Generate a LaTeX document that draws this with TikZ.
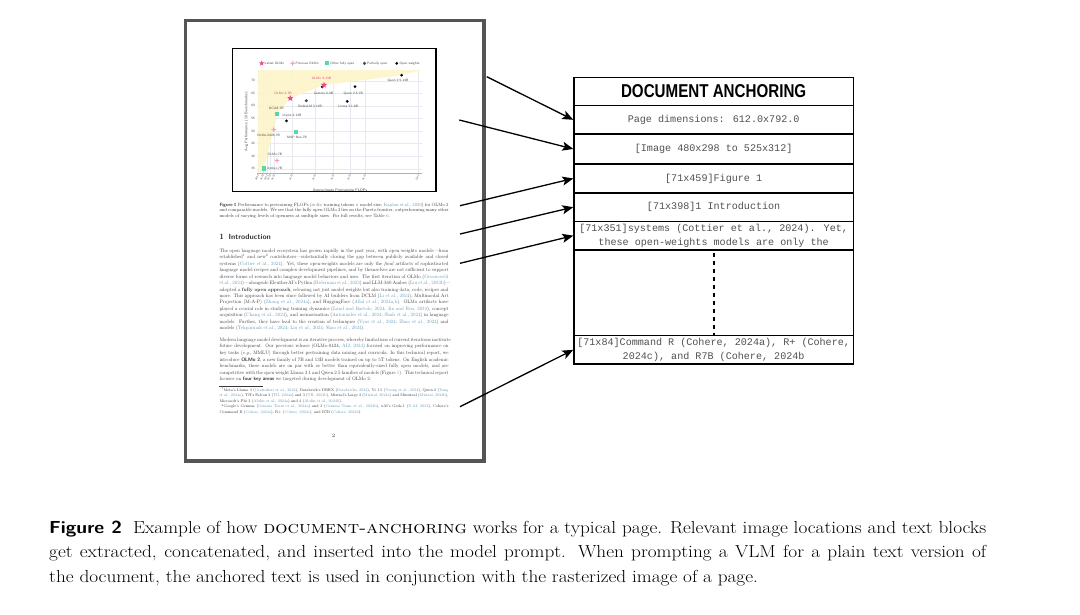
\documentclass[tikz,border=0pt]{standalone}
\usepackage{fontspec}
\usepackage{graphicx}
\usetikzlibrary{arrows.meta,shapes.geometric,calc}
\newfontfamily\anchhead{Liberation Sans}
\newfontfamily\anchmono{Liberation Mono}
\definecolor{pagegray}{RGB}{85,85,85}
\definecolor{citec}{RGB}{95,150,180}
\definecolor{bodyc}{RGB}{55,55,55}
\definecolor{olmopink}{RGB}{236,72,140}
\definecolor{prevpink}{RGB}{246,160,200}
\definecolor{mint}{RGB}{90,215,170}
\definecolor{slate}{RGB}{55,85,95}
\definecolor{frontier}{RGB}{253,244,200}
\definecolor{gridc}{RGB}{230,234,240}
\definecolor{axisc}{RGB}{160,180,200}
\definecolor{monoc}{RGB}{80,80,80}
\definecolor{labc}{RGB}{70,70,70}
\definecolor{pinklab}{RGB}{225,70,110}
\newcommand{\ct}[1]{\textcolor{citec}{#1}}
\newcommand{\jl}[1]{\hbox to 458pt{#1}}
\newcommand{\lastl}[1]{\hbox{#1}}
\newcommand{\chartfont}{\sffamily\fontsize{3.3}{3.6}\selectfont}
\newcommand{\capfont}{\rmfamily\fontsize{17.4}{24.5}\selectfont}
\newsavebox\capA
\newdimen\capw
\begin{document}
\sbox\capA{\capfont{\sffamily\bfseries Figure 2}\hspace{10pt}Example of how \textsc{document-anchoring} works for a typical page. Relevant image locations and text blocks}%
\global\capw=\wd\capA
\pgfmathsetmacro\capsx{937/\capw}%
\begin{tikzpicture}[x=1pt,y=-1pt,
  cell/.style={draw=black, line width=1.3pt, minimum width=279.4pt, inner sep=0pt,
    anchor=north west, align=center, font=\anchmono\fontsize{10.1}{14.3}\selectfont, text=monoc},
  arr/.style={-{Stealth[length=11pt,width=9pt,inset=2.5pt]}, line width=1.3pt, black},
  lab/.style={font=\chartfont, text=labc, inner sep=0pt},
  plab/.style={font=\chartfont, text=pinklab, inner sep=0pt},
  starm/.style={star, star points=5, star point ratio=2.3, fill=olmopink, inner sep=0pt, minimum size=6.5pt},
  prevm/.style={star, star points=4, star point ratio=2.6, fill=prevpink, inner sep=0pt, minimum size=5.5pt},
  sqm/.style={rectangle, fill=mint, inner sep=0pt, minimum size=4.3pt},
  diam/.style={diamond, fill=slate, inner sep=0pt, minimum size=3.6pt},
  dotm/.style={circle, fill=black, inner sep=0pt, minimum size=3pt},
  body/.style={anchor=base west, inner sep=0pt, text=bodyc}
]
\useasboundingbox (0,0) rectangle (1080,614);
\fill[white] (0,0) rectangle (1080,614);

% ---------- page thumbnail ----------
\draw[pagegray, line width=3.5pt] (185.5,20.3) rectangle (484,461);

% chart
\begin{scope}
\clip (232.5,48.5) rectangle (436,191.5);
\foreach \k in {0,...,7} {
  \pgfmathsetmacro\yy{168.7-12.571*\k}
  \draw[gridc, line width=0.4pt] (257,\yy) -- (422,\yy);
}
\foreach \xx in {257.7,262.7,266.7,270,274,291.7,315,333.3,350,365,418.3} {
  \draw[gridc, line width=0.4pt] (\xx,70) -- (\xx,173.3);
}
\fill[frontier, opacity=0.9] (258,70) -- (422,70) -- (401.7,75.2) -- (324,85) -- (290,98.5)
  -- (277,113.8) -- (273.7,129.5) -- (264,168.5) -- (260,173.3) -- (258,173.3) -- cycle;
\draw[axisc, line width=0.5pt] (257,173.3) -- (422,173.3);
\foreach \k [count=\i] in {0,...,7} {
  \pgfmathsetmacro\yy{168.7-12.571*\k}
  \pgfmathtruncatemacro\vv{35+5*\k}
  \node[lab, anchor=east] (yt\i) at (255,\yy) {\vv};
}
\foreach \xx/\tk [count=\i] in {257.7/{2e22}, 262.7/{3e22}, 266.7/{4e22}, 270/{5e22}, 274/{6e22}, 291.7/{1e23}, 315/{2e23}, 333.3/{3e23}, 350/{4e23}, 365/{5e23}, 418.3/{1e24}} {
  \node[lab, font=\sffamily\fontsize{2.6}{3}\selectfont, anchor=east, rotate=60] (xt\i) at (\xx+0.6,175) {\tk};
}
\node[lab, font=\sffamily\fontsize{3.8}{4}\selectfont, rotate=90] (ylab) at (246.5,121.7) {Avg Performance (10 Benchmarks)};
\node[lab, font=\sffamily\fontsize{3.8}{4}\selectfont] (xlab) at (340,190.5) {Approximate Pretraining FLOPs};
% legend
\node[starm, minimum size=5.5pt] (lg1) at (261.7,63.3) {};
\node[lab, anchor=west] (lg1t) at (264.5,63.3) {Latest OLMo};
\node[prevm] (lg2) at (292.7,63.3) {};
\node[lab, anchor=west] (lg2t) at (295.5,63.3) {Previous OLMo};
\node[sqm, minimum size=3.8pt] (lg3) at (327.3,63.3) {};
\node[lab, anchor=west] (lg3t) at (330.2,63.3) {Other fully open};
\node[diam] (lg4) at (364.5,63.3) {};
\node[lab, anchor=west] (lg4t) at (367,63.3) {Partially open};
\node[dotm] (lg5) at (396.7,63.3) {};
\node[lab, anchor=west] (lg5t) at (399.3,63.3) {Open weights};
% points
\node[dotm] (p1) at (401.7,75.2) {};
\node[lab] (p1t) at (398,80.5) {Qwen 2.5-14B};
\node[dotm] (p3) at (322.3,86.8) {};
\node[starm] (p2) at (324,85) {};
\node[plab] (p2t) at (321.5,78.7) {OLMo 2-13B};
\node[lab] (p3t) at (323.5,93.2) {Gemma 2-9B};
\node[dotm] (p4) at (355,86.7) {};
\node[lab] (p4t) at (353.3,93.3) {Qwen 2.5-7B};
\node[dotm] (p5) at (347.3,101.3) {};
\node[lab] (p5t) at (348.3,106.7) {Llama 3.1-8B};
\node[diam] (p6) at (306.3,100.7) {};
\node[lab] (p6t) at (310,106) {StableLM 2-12B};
\node[starm] (p7) at (290.3,98.3) {};
\node[plab] (p7t) at (283,93.2) {OLMo 2-7B};
\node[sqm] (p8) at (277.3,114) {};
\node[lab] (p8t) at (276.3,108.8) {DCLM-7B};
\node[dotm] (p9) at (286.5,120.8) {};
\node[lab] (p9t) at (292,115.8) {Llama 2-13B};
\node[prevm] (p10) at (273.7,129.6) {};
\node[lab] (p10t) at (268.5,135.7) {OLMo-0424-7B};
\node[sqm] (p11) at (295.7,131.7) {};
\node[lab] (p11t) at (297,137.7) {MAP Neo-7B};
\node[prevm] (p12) at (277,160.6) {};
\node[lab] (p12t) at (275,154.5) {OLMo-7B};
\node[sqm] (p13) at (264,168.4) {};
\node[lab, anchor=west] (p13t) at (267,168.4) {Amber-7B};
\end{scope}
\draw[black, line width=1.2pt] (232.5,48.5) rectangle (436,191.5);

% figure 1 caption
\node[body] (fig1cap) at (219.3,206.4) {\scalebox{0.5}{\vtop{\fontsize{9.2}{11}\selectfont
\jl{{\sffamily\bfseries Figure 1} Performance to pretraining FLOPs ($\approx 6\times$ training tokens $\times$ model size; \ct{Kaplan et al., 2020}) for OLMo 2}
\jl{and comparable models. We see that the fully open OLMo 2 lies on the Pareto frontier, outperforming many other}
\lastl{models of varying levels of openness at multiple sizes. For full results, see Table \ct{6}.}}}};

\node[body, text=black!80] (intro) at (219.3,239.3) {\sffamily\bfseries\fontsize{7.5}{8}\selectfont 1\hspace{5pt}Introduction};

\node[body] (para1) at (219.3,252.3) {\scalebox{0.5}{\vtop{\fontsize{9.8}{12.92}\selectfont
\jl{The open language model ecosystem has grown rapidly in the past year, with open weights models---from}
\jl{established\textsuperscript{1} and new\textsuperscript{2} contributors---substantially closing the gap between publicly available and closed}
\jl{systems (\ct{Cottier et al., 2024}). Yet, these open-weights models are only the \textit{final} artifacts of sophisticated}
\jl{language model recipes and complex development pipelines, and by themselves are not sufficient to support}
\jl{diverse forms of research into language model behaviors and uses. The first iteration of OLMo (\ct{Groeneveld}}
\jl{\ct{et al., 2024})---alongside EleutherAI's Pythia (\ct{Biderman et al., 2023}) and LLM-360 Amber (\ct{Liu et al., 2023b})---}
\jl{adopted a \textbf{fully open approach}, releasing not just model weights but also training data, code, recipes and}
\jl{more. This approach has been since followed by AI builders from DCLM (\ct{Li et al., 2024}), Multimodal Art}
\jl{Projection (M-A-P) (\ct{Zhang et al., 2024a}), and HuggingFace (\ct{Allal et al., 2024a,b}). OLMo artifacts have}
\jl{played a crucial role in studying training dynamics (\ct{Land and Bartolo, 2024; Jin and Ren, 2024}), concept}
\jl{acquisition (\ct{Chang et al., 2024}), and memorization (\ct{Antoniades et al., 2024; Shah et al., 2024}) in language}
\jl{models. Further, they have lead to the creation of techniques (\ct{Vyas et al., 2024; Zhao et al., 2024}) and}
\lastl{models (\ct{Tekparmak et al., 2024; Liu et al., 2024; Shao et al., 2024}).}}}};

\node[body] (para2) at (219.3,341.3) {\scalebox{0.5}{\vtop{\fontsize{9.8}{13.2}\selectfont
\jl{Modern language model development is an iterative process, whereby limitations of current iterations motivate}
\jl{future development. Our previous release (OLMo-0424; \ct{AI2, 2024}) focused on improving performance on}
\jl{key tasks (\textit{e.g.}, MMLU) through better pretraining data mixing and curricula. In this technical report, we}
\jl{introduce {\sffamily\bfseries OLMo 2}, a new family of 7B and 13B models trained on up to 5T tokens. On English academic}
\jl{benchmarks, these models are on par with or better than equivalently-sized fully open models, and are}
\jl{competitive with the open weight Llama 3.1 and Qwen 2.5 families of models (Figure \ct{1}). This technical report}
\lastl{focuses on {\sffamily\bfseries four key areas} we targeted during development of OLMo 2:}}}};

\draw[bodyc, line width=0.3pt] (219.3,386) -- (263,386);

\node[body] (foot) at (219.3,391.2) {\scalebox{0.5}{\vtop{\fontsize{7.8}{11}\selectfont
\jl{\hspace{4pt}\textsuperscript{1}Meta's Llama 3 (\ct{Grattafiori et al., 2024}), Databrick's DBRX (\ct{Databricks, 2024}), Yi 1.5 (\ct{Young et al., 2024}), Qwen 2 (\ct{Yang}}
\jl{\ct{et al., 2024a}), TII's Falcon 2 (\ct{TII, 2024a}) and 3 (\ct{TII, 2024b}), Mistral's Large 2 (\ct{Mistral, 2024a}) and Ministral (\ct{Mistral, 2024b}),}
\lastl{Microsoft's Phi 3 (\ct{Abdin et al., 2024a}) and 4 (\ct{Abdin et al., 2024b}).}
\jl{\hspace{4pt}\textsuperscript{2}Google's Gemma (\ct{Gemma Team et al., 2024a}) and 2 (\ct{Gemma Team et al., 2024b}), xAI's Grok-1 (\ct{X.AI, 2023}), Cohere's}
\lastl{Command R (\ct{Cohere, 2024a}), R+ (\ct{Cohere, 2024c}), and R7B (\ct{Cohere, 2024b}).}}}};

\node[inner sep=0pt, text=bodyc, font=\fontsize{5}{6}\selectfont] (pnum) at (333.5,436) {2};

% ---------- anchoring table ----------
\node[cell, minimum height=28.3pt, text=black] (hdr) at (573.3,76.7)
  {\anchhead\bfseries\fontsize{18.6}{20}\selectfont\scalebox{0.815}[1]{DOCUMENT ANCHORING}};
\node[cell, minimum height=28.3pt] (r1) at (573.3,105) {Page dimensions: 612.0x792.0};
\node[cell, minimum height=30pt] (r2) at (573.3,133.3) {[Image 480x298 to 525x312]};
\node[cell, minimum height=29pt] (r3) at (573.3,163.3) {[71x459]Figure 1};
\node[cell, minimum height=28.4pt] (r4) at (573.3,192.3) {[71x398]1 Introduction};
\node[cell, minimum height=28.6pt] (r5) at (573.3,220.7) {[71x351]systems (Cottier et al., 2024). Yet,\\these open-weights models are only the};
\node[cell, minimum height=85.7pt] (r6) at (573.3,249.3) {};
\node[cell, minimum height=28.3pt] (r7) at (573.3,335) {[71x84]Command R (Cohere, 2024a), R+ (Cohere,\\2024c), and R7B (Cohere, 2024b};
\draw[black, line width=1.8pt, dash pattern=on 4.5pt off 3.5pt] ($(r6.north)+(0,3.4)$) -- ($(r6.south)+(0,-1.5)$);

% ---------- arrows ----------
\coordinate (s1) at (486.7,76.7);
\coordinate (s2) at (459.3,120);
\coordinate (s3) at (460,205.7);
\coordinate (s4) at (460,234);
\coordinate (s5) at (460,263.3);
\coordinate (s6) at (460,406.7);
\draw[arr] (s1) -- (r1.west);
\draw[arr] (s2) -- (r2.west);
\draw[arr] (s3) -- (r3.west);
\draw[arr] (s4) -- (r4.west);
\draw[arr] (s5) -- (r5.west);
\draw[arr] (s6) -- (r7.west);

% ---------- caption ----------
\node[anchor=base west, inner sep=0pt] (cap1) at (49,533) {\scalebox{\capsx}[1]{\usebox\capA}};
\node[anchor=base west, inner sep=0pt] (cap2) at (49,557.5) {\scalebox{\capsx}[1]{\capfont\hbox to \capw{get extracted, concatenated, and inserted into the model prompt. When prompting a VLM for a plain text version of}}};
\node[anchor=base west, inner sep=0pt] (cap3) at (49,582) {\scalebox{\capsx}[1]{\capfont the document, the anchored text is used in conjunction with the rasterized image of a page.}};
\end{tikzpicture}
\end{document}
